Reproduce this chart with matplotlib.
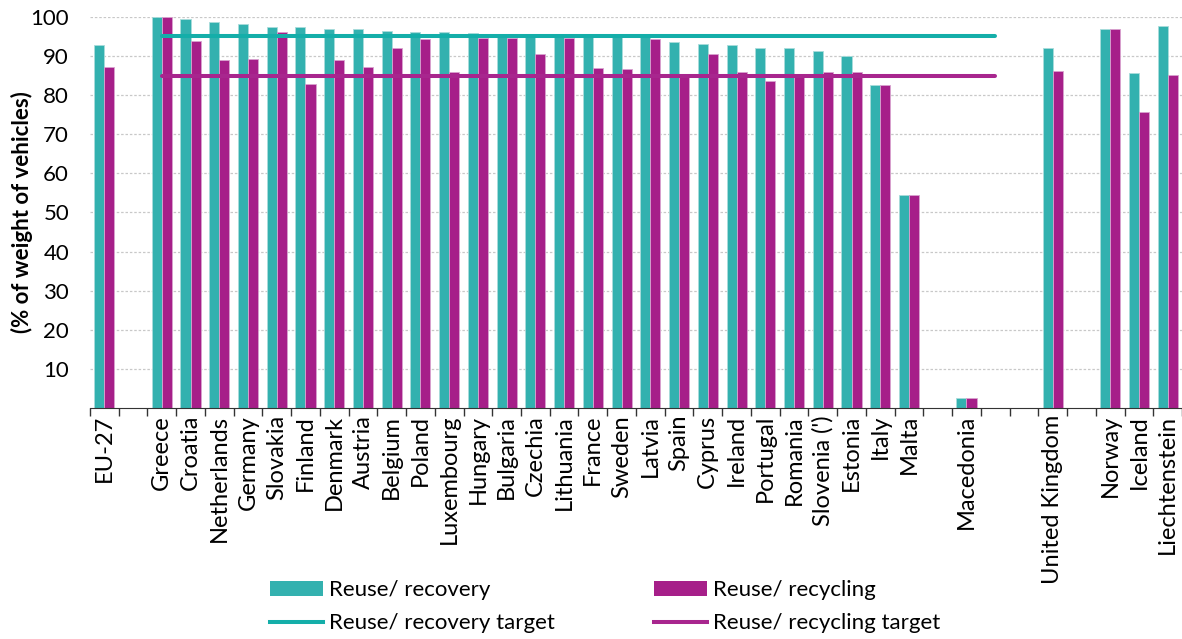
import numpy as np
import matplotlib
matplotlib.use("Agg")
import matplotlib.pyplot as plt
from matplotlib.patches import Patch
from matplotlib.lines import Line2D

plt.rcParams['font.family'] = ['Lato', 'DejaVu Sans']

# empty strings are spacer slots between country groups
countries = ['EU-27', '',
             'Greece', 'Croatia', 'Netherlands', 'Germany', 'Slovakia', 'Finland',
             'Denmark', 'Austria', 'Belgium', 'Poland', 'Luxembourg', 'Hungary',
             'Bulgaria', 'Czechia', 'Lithuania', 'France', 'Sweden', 'Latvia',
             'Spain', 'Cyprus', 'Ireland', 'Portugal', 'Romania', "Slovenia (')",
             'Estonia', 'Italy', 'Malta', '',
             'Macedonia', '', '',
             'United Kingdom', '',
             'Norway', 'Iceland', 'Liechtenstein']

nan = np.nan
recovery = [92.7, nan,
            100.0, 99.5, 98.7, 98.1, 97.4, 97.4,
            97.0, 96.8, 96.4, 96.2, 96.1, 95.8,
            95.7, 95.4, 95.3, 95.2, 95.1, 94.9,
            93.5, 93.2, 92.8, 92.1, 92.1, 91.4,
            89.9, 82.7, 54.5, nan,
            2.5, nan, nan,
            92.1, nan,
            96.9, 85.7, 97.8]

recycling = [87.1, nan,
             99.9, 93.9, 88.9, 89.3, 96.1, 82.8,
             88.9, 87.2, 92.1, 94.3, 85.9, 94.7,
             94.6, 90.4, 94.6, 86.9, 86.8, 94.3,
             85.5, 90.4, 86.0, 83.6, 85.2, 86.0,
             85.8, 82.5, 54.5, nan,
             2.5, nan, nan,
             86.2, nan,
             96.9, 75.6, 85.1]

# targets apply from Greece through the slot after Macedonia
target_start, target_end = 2, 31
recovery_target = 95
recycling_target = 85

teal = '#33b1af'
purple = '#a61f89'
teal_line = '#14aea9'
purple_line = '#a8268e'

x = np.arange(len(countries))
w = 0.35
fs = 16

fig = plt.figure(figsize=(11.82, 6.39), dpi=100)
ax = fig.add_axes([0.0761, 0.3615, 0.9239, 0.612])

ax.yaxis.grid(True, linestyle=(0, (2, 1.5)), color='#c8c8c8', linewidth=0.9)
ax.set_axisbelow(True)

ax.bar(x - w / 2, recovery, w, color=teal, edgecolor='#a9dcdb', linewidth=0.6)
ax.bar(x + w / 2, recycling, w, color=purple, edgecolor='#d9a3cf', linewidth=0.6)

tx = np.arange(target_start, target_end + 1)
ax.plot(tx, np.full(len(tx), recovery_target), color=teal_line, linewidth=2.9,
        solid_capstyle='round')
ax.plot(tx, np.full(len(tx), recycling_target), color=purple_line, linewidth=2.9,
        solid_capstyle='round')

ax.set_xlim(-0.5, len(countries) - 0.5)
ax.set_ylim(0, 100)
ax.set_yticks(np.arange(10, 101, 10))
ax.tick_params(axis='y', length=0, labelsize=fs, pad=15)
ax.set_ylabel('(% of weight of vehicles)', fontsize=fs, fontweight='bold', labelpad=-2)

# category labels at slot centres, tick marks on slot boundaries
ax.set_xticks(x)
ax.set_xticklabels(countries, rotation=90, fontsize=17)
ax.tick_params(axis='x', which='major', length=0, pad=5)
ax.set_xticks(np.arange(-0.5, len(countries), 1.0), minor=True)
ax.tick_params(axis='x', which='minor', length=6, width=1, color='#333333')

for side in ['top', 'right', 'left']:
    ax.spines[side].set_visible(False)
ax.spines['bottom'].set_color('#333333')

handles = [Patch(facecolor=teal), Line2D([], [], color=teal_line, linewidth=2.9),
           Patch(facecolor=purple), Line2D([], [], color=purple_line, linewidth=2.9)]
labels = ['Reuse/ recovery', 'Reuse/ recovery target',
          'Reuse/ recycling', 'Reuse/ recycling target']
fig.legend(handles, labels, ncol=2, loc='upper left', bbox_to_anchor=(0.221, 0.106),
           frameon=False, fontsize=fs, handlelength=2.4, handletextpad=0.25,
           columnspacing=4.45, labelspacing=0.6, borderaxespad=0)

fig.savefig('out.png', dpi=100)
